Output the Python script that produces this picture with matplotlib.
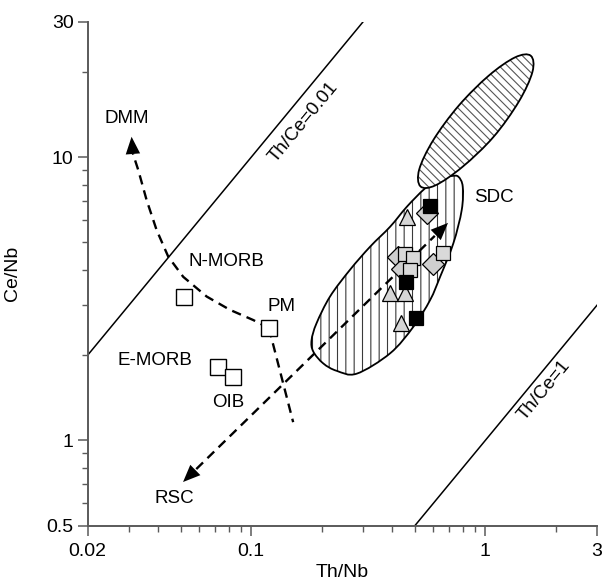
import matplotlib
matplotlib.use('Agg')
import matplotlib.pyplot as plt
import numpy as np
from matplotlib.path import Path
from matplotlib.patches import PathPatch
from matplotlib.ticker import FixedLocator, NullFormatter

plt.rcParams['font.family'] = ['Liberation Sans', 'DejaVu Sans']
plt.rcParams['hatch.linewidth'] = 0.8

# reference reservoirs (open squares)
ref_names = ['N-MORB', 'PM', 'E-MORB', 'OIB']
ref_th_nb = [0.0515, 0.119, 0.0723, 0.0833]
ref_ce_nb = [3.22, 2.49, 1.81, 1.67]

# samples
black_sq_th_nb = [0.581, 0.457, 0.506]
black_sq_ce_nb = [6.72, 3.62, 2.70]
grey_sq_th_nb = [0.455, 0.490, 0.477, 0.658]
grey_sq_ce_nb = [4.54, 4.42, 4.00, 4.57]
diamond_th_nb = [0.565, 0.425, 0.596, 0.440]
diamond_ce_nb = [6.33, 4.43, 4.18, 4.02]
triangle_th_nb = [0.462, 0.392, 0.454, 0.437]
triangle_ce_nb = [6.16, 3.31, 3.31, 2.59]

# SDC field outline
sdc_th_nb = [0.184, 0.181, 0.190, 0.217, 0.264, 0.322, 0.392, 0.462, 0.553, 0.641, 0.719,
             0.767, 0.801, 0.793, 0.730, 0.641, 0.581, 0.493, 0.392, 0.282, 0.232, 0.203]
sdc_ce_nb = [2.06, 2.26, 2.59, 3.22, 4.00, 4.83, 5.68, 6.68, 7.76, 8.44, 8.58,
             8.53, 7.87, 6.51, 4.96, 3.78, 3.13, 2.52, 2.03, 1.72, 1.76, 1.87]

# upper hatched field outline
upper_th_nb = [1.564, 1.590, 1.390, 1.085, 0.800, 0.612, 0.528, 0.522, 0.600, 0.770, 1.035, 1.340]
upper_ce_nb = [22.8, 20.0, 15.7, 11.8, 9.25, 7.95, 7.89, 9.05, 11.5, 15.2, 19.4, 22.5]

# trends
dmm_th_nb = [0.119, 0.102, 0.0811, 0.0645, 0.0512, 0.0442, 0.0394, 0.0357, 0.0329, 0.0312, 0.0308]
dmm_ce_nb = [2.49, 2.66, 2.89, 3.22, 3.78, 4.45, 5.53, 7.06, 9.0, 10.3, 11.8]
pm_tail_th_nb = [0.119, 0.151]
pm_tail_ce_nb = [2.49, 1.16]
rsc_sdc_th_nb = [0.0511, 0.693]
rsc_sdc_ce_nb = [0.713, 5.86]

th_ce_ratios = [0.01, 1]

x_major = [0.02, 0.1, 1, 3]
y_major = [0.5, 1, 10, 30]


def smooth_closed(xs, ys):
    # closed Catmull-Rom curve through the outline points, in log space
    p = np.log10(np.column_stack([xs, ys]))
    n = len(p)
    verts = [p[0]]
    codes = [Path.MOVETO]
    for i in range(n):
        p0, p1, p2, p3 = p[i - 1], p[i], p[(i + 1) % n], p[(i + 2) % n]
        verts += [p1 + (p2 - p0) / 6, p2 - (p3 - p1) / 6, p2]
        codes += [Path.CURVE4] * 3
    verts.append(p[0])
    codes.append(Path.CLOSEPOLY)
    return Path(10 ** np.array(verts), codes)


def field(ax, xs, ys, hatch, hatch_color, z):
    path = smooth_closed(xs, ys)
    ax.add_patch(PathPatch(path, facecolor='white', edgecolor=hatch_color, hatch=hatch, lw=0, zorder=z))
    ax.add_patch(PathPatch(path, facecolor='none', edgecolor='black', lw=1.3, zorder=z))


def head(ax, x0, y0, x1, y1):
    ax.annotate('', xy=(x1, y1), xytext=(x0, y0),
                arrowprops=dict(arrowstyle='-|>,head_length=0.62,head_width=0.26',
                                color='black', lw=0, shrinkA=0, shrinkB=0, mutation_scale=20),
                zorder=6)


fig = plt.figure(figsize=(6.06, 5.83), dpi=100)
ax = fig.add_axes([0.1447, 0.0983, 0.8404, 0.8640])
ax.set_xscale('log')
ax.set_yscale('log')
ax.set_xlim(0.02, 3)
ax.set_ylim(0.5, 30)

field(ax, sdc_th_nb, sdc_ce_nb, '||', '#3a3a3a', 1)
field(ax, upper_th_nb, upper_ce_nb, '\\\\\\\\', '#555555', 2)

# Th/Ce reference lines
xl = np.array([0.02, 3])
for r in th_ce_ratios:
    ax.plot(xl, xl / r, color='black', lw=1.1, zorder=2)
ax.text(0.167, 13.3, 'Th/Ce=0.01', rotation=50.4, ha='center', va='center', fontsize=13.5)
ax.text(1.78, 1.5, 'Th/Ce=1', rotation=50.4, ha='center', va='center', fontsize=13.5)

dash = (0, (4, 2.6))
ax.plot(dmm_th_nb[:-1], dmm_ce_nb[:-1], color='black', lw=1.7, ls=dash, zorder=3)
head(ax, dmm_th_nb[-2], dmm_ce_nb[-2], dmm_th_nb[-1], dmm_ce_nb[-1])
ax.plot(pm_tail_th_nb, pm_tail_ce_nb, color='black', lw=1.7, ls=dash, zorder=3)

# double-headed trend RSC <-> SDC
lx, ly = np.log10(rsc_sdc_th_nb), np.log10(rsc_sdc_ce_nb)
bx = 10 ** (lx[0] + np.array([0.05, 0.95]) * (lx[1] - lx[0]))
by = 10 ** (ly[0] + np.array([0.05, 0.95]) * (ly[1] - ly[0]))
ax.plot(bx, by, color='black', lw=1.7, ls=dash, zorder=3)
head(ax, bx[0], by[0], rsc_sdc_th_nb[0], rsc_sdc_ce_nb[0])
head(ax, bx[1], by[1], rsc_sdc_th_nb[1], rsc_sdc_ce_nb[1])

ax.plot(ref_th_nb, ref_ce_nb, 's', ms=12, mfc='white', mec='black', mew=1.0, zorder=5)
ax.plot(diamond_th_nb, diamond_ce_nb, 'D', ms=11, mfc='#cfcfcf', mec='black', mew=0.9, zorder=4)
ax.plot(triangle_th_nb, triangle_ce_nb, '^', ms=11, mfc='#d6d6d6', mec='black', mew=0.9, zorder=4)
ax.plot(grey_sq_th_nb, grey_sq_ce_nb, 's', ms=10, mfc='#d9d9d9', mec='black', mew=0.9, zorder=5)
ax.plot(black_sq_th_nb, black_sq_ce_nb, 's', ms=10, mfc='black', mec='black', mew=0.9, zorder=5)

fs = 13.5
ax.text(0.0294, 13.7, 'DMM', ha='center', va='center', fontsize=fs)
ax.text(0.0785, 4.27, 'N-MORB', ha='center', va='center', fontsize=fs)
ax.text(0.135, 2.96, 'PM', ha='center', va='center', fontsize=fs)
ax.text(0.0388, 1.91, 'E-MORB', ha='center', va='center', fontsize=fs)
ax.text(0.0798, 1.36, 'OIB', ha='center', va='center', fontsize=fs)
ax.text(0.0468, 0.626, 'RSC', ha='center', va='center', fontsize=fs)
ax.text(1.09, 7.21, 'SDC', ha='center', va='center', fontsize=fs)

for s in ['top', 'right']:
    ax.spines[s].set_visible(False)
for s in ['left', 'bottom']:
    ax.spines[s].set_color('#5a5a5a')
    ax.spines[s].set_linewidth(1.4)

ax.xaxis.set_major_locator(FixedLocator(x_major))
ax.set_xticklabels([str(v) for v in x_major])
ax.yaxis.set_major_locator(FixedLocator(y_major))
ax.set_yticklabels([str(v) for v in y_major])
ax.xaxis.set_minor_formatter(NullFormatter())
ax.yaxis.set_minor_formatter(NullFormatter())
ax.tick_params(which='major', length=7.2, width=1.1, color='#5a5a5a', labelsize=14)
ax.tick_params(which='minor', length=4.2, width=1.0, color='#5a5a5a')
ax.tick_params(axis='x', which='major', pad=5)
ax.tick_params(axis='y', which='major', pad=3)

ax.set_xlabel('Th/Nb', fontsize=14)
ax.set_ylabel('Ce/Nb', fontsize=14)
ax.xaxis.set_label_coords(0.5, -0.076)
ax.yaxis.set_label_coords(-0.131, 0.5)

fig.savefig('out.png', dpi=100)
